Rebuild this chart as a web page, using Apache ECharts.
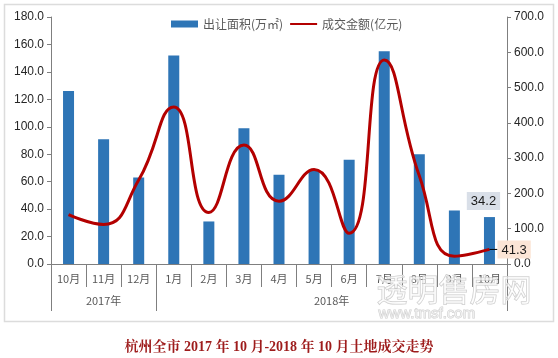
<!DOCTYPE html>
<html><head><meta charset="utf-8">
<script src="https://cdn.jsdelivr.net/npm/echarts@6/dist/echarts.min.js"></script>
<style>html,body{margin:0;padding:0;background:#fff}#c{width:558px;height:358px}</style>
</head><body><div id="c"></div>
<script>
var months = ['10月','11月','12月','1月','2月','3月','4月','5月','6月','7月','8月','9月','10月'];
var years = ['2017年','2018年'];
var yearSpans = [3, 10];
var areaValues = [126, 91, 63, 152, 31, 99, 65, 68, 76, 155, 80, 39, 34.2];
var amountValues = [140, 112, 238, 445, 146, 337, 178, 268, 87, 578, 250, 22, 41.3];
var leftTicks = [0, 180, 20];
var rightTicks = [0, 700, 100];
var titleText = '杭州全市 2017 年 10 月-2018 年 10 月土地成交走势';

var bounds = [0], centers = [];
yearSpans.forEach(function (s, i) { var b = bounds[i]; bounds.push(b + s); centers.push(b + s / 2); });

var last = months.length - 1;
var barData = areaValues.map(function (v, i) {
  return i === last ? { value: v, label: { show: true, position: 'top', distance: 7, offset: [-6, 0],
    backgroundColor: '#d9dfe8', padding: [3, 4, 2, 4], color: '#1a1a1a', fontSize: 13,
    fontFamily: 'Liberation Sans', formatter: function (p) { return p.value.toFixed(1); } } } : v;
});
var lineData = amountValues.map(function (v, i) {
  return i === last ? { value: v, label: { show: true, position: 'right', distance: 0,
    color: '#1a1a1a', fontSize: 13, fontFamily: 'Liberation Sans',
    formatter: function (p) { return '{l|}{b|' + p.value.toFixed(1) + '}'; },
    rich: {
      l: { width: 8, height: 1, backgroundColor: '#000', verticalAlign: 'middle' },
      b: { backgroundColor: '#fbe5d6', padding: [3, 4, 2, 4], color: '#1a1a1a', fontSize: 13,
           fontFamily: 'Liberation Sans', verticalAlign: 'middle' }
    } } } : v;
});

var chart = echarts.init(document.getElementById('c'), null, { renderer: 'canvas' });
var axisColor = '#7f7f7f';
chart.setOption({
  animation: false,
  backgroundColor: '#fff',
  grid: { left: 51, right: 51, top: 17, bottom: 94, containLabel: false },
  legend: {
    top: 13, left: 166, itemGap: 6, itemWidth: 27, itemHeight: 7,
    textStyle: { color: '#595959', fontSize: 12, fontFamily: 'Noto Sans CJK SC' },
    data: [{ name: '出让面积(万㎡)', icon: 'rect' },
           { name: '成交金额(亿元)', itemStyle: { color: 'rgba(0,0,0,0)', borderWidth: 0, opacity: 0 } }]
  },
  xAxis: [{
    type: 'category', data: months, boundaryGap: true,
    axisLine: { lineStyle: { color: axisColor, width: 1 } },
    axisTick: { show: true, interval: 0, length: 23, lineStyle: { color: axisColor } },
    axisLabel: { interval: 0, margin: 9, color: '#595959', fontSize: 11, fontFamily: 'Noto Sans CJK SC' }
  }, {
    type: 'value', min: 0, max: months.length, position: 'bottom',
    axisLine: { show: false },
    splitLine: { show: false },
    axisTick: { show: true, customValues: bounds, length: 47, lineStyle: { color: axisColor } },
    axisLabel: { show: true, customValues: centers, margin: 31, color: '#595959', fontSize: 11,
      fontFamily: 'Noto Sans CJK SC',
      formatter: function (v) { var k = centers.indexOf(v); return k >= 0 ? years[k] : ''; } }
  }],
  yAxis: [{
    type: 'value', min: leftTicks[0], max: leftTicks[1], interval: leftTicks[2], position: 'left',
    axisLine: { show: true, lineStyle: { color: axisColor } },
    axisTick: { show: true, length: 4, lineStyle: { color: axisColor } },
    splitLine: { show: false },
    axisLabel: { margin: 7, color: '#262626', fontSize: 12, fontFamily: 'Liberation Sans',
      formatter: function (v) { return v.toFixed(1); } }
  }, {
    type: 'value', min: rightTicks[0], max: rightTicks[1], interval: rightTicks[2], position: 'right',
    axisLine: { show: true, lineStyle: { color: axisColor } },
    axisTick: { show: true, length: 4, lineStyle: { color: axisColor } },
    splitLine: { show: false },
    axisLabel: { margin: 7, color: '#262626', fontSize: 12, fontFamily: 'Liberation Sans',
      formatter: function (v) { return v.toFixed(1); } }
  }],
  series: [{
    name: '出让面积(万㎡)', type: 'bar', data: barData, barWidth: 11, yAxisIndex: 0, xAxisIndex: 0,
    itemStyle: { color: '#2e75b6' }
  }, {
    name: '成交金额(亿元)', type: 'line', data: lineData, yAxisIndex: 1, xAxisIndex: 0,
    smooth: 0.5, symbol: 'circle', symbolSize: 0.01, showSymbol: true,
    lineStyle: { color: '#b30000', width: 3 }, itemStyle: { color: '#b30000' },
    z: 3
  }],
  graphic: [
    { type: 'rect', left: 2, top: 2, shape: { width: 549, height: 317 }, silent: true,
      style: { fill: 'none', stroke: '#dcdcdc', lineWidth: 1.5 } },
    { type: 'text', left: 376, top: 273, silent: true, z: 100,
      style: { text: '透明售房网', fontSize: 31, fontFamily: 'Noto Sans CJK SC', fill: 'rgba(255,255,255,0.55)', stroke: '#c9c9c9', lineWidth: 1 } },
    { type: 'text', left: 378, top: 306, silent: true, z: 100,
      style: { text: 'www.tmsf.com', fontSize: 15, fontFamily: 'Liberation Sans', fill: 'rgba(255,255,255,0.55)', stroke: '#cfcfcf', lineWidth: 1 } },
    { type: 'text', left: 'center', top: 340, silent: true,
      style: { text: titleText, fontSize: 14, fontWeight: 'bold', fontFamily: 'Liberation Serif, Noto Serif CJK SC, Noto Sans CJK SC', fill: '#9e1c1c' } }
  ]
});
</script></body></html>
